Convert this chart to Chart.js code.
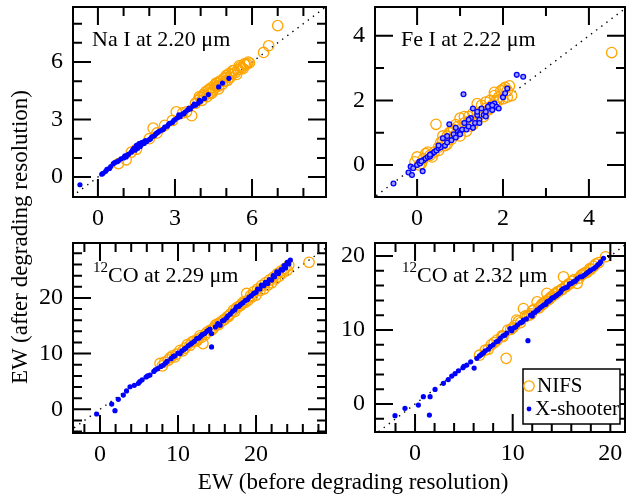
<!DOCTYPE html>
<html>
<head>
<meta charset="utf-8">
<script src="https://cdn.jsdelivr.net/npm/chart.js@4.4.1/dist/chart.umd.min.js"></script>
<style>
  html, body { margin: 0; padding: 0; background: #fff; }
  #wrap { position: relative; width: 627px; height: 496px; overflow: hidden; }
  #wrap canvas { position: absolute; left: 0; top: 0; }
  .title { position: absolute; font-family: 'Liberation Serif', 'Times New Roman', serif; font-size: 23px; color: #000; white-space: nowrap; }
  #ytitle { left: 20px; top: 237px; transform: translate(-50%, -50%) rotate(-90deg); }
  #xtitle { left: 353px; top: 482px; transform: translate(-50%, -50%); }
</style>
</head>
<body>
<div id="wrap">
  <canvas id="na" width="627" height="496"></canvas>
  <canvas id="fe" width="627" height="496"></canvas>
  <canvas id="coa" width="627" height="496"></canvas>
  <canvas id="cob" width="627" height="496"></canvas>
  <div class="title" id="ytitle">EW (after degrading resolution)</div>
  <div class="title" id="xtitle">EW (before degrading resolution)</div>
</div>
<script>
// ---- data ----
// Na I at 2.20 um
const naNifsX = [0.8, 1.1, 1.3, 1.5, 2.0, 2.15, 2.3, 2.6, 2.9, 3.05, 3.3, 3.45, 3.65, 3.8, 3.9, 4.0, 4.05, 4.1, 4.2, 4.25, 4.3, 4.35, 4.4, 4.5, 4.55, 4.6, 4.65, 4.7, 4.8, 4.85, 4.9, 5.0, 5.05, 5.1, 5.2, 5.3, 5.35, 5.45, 5.5, 5.6, 5.7, 5.75, 5.85, 5.9, 6.45, 6.65, 7.0,
  3.95, 4.15, 4.3, 4.45, 4.6, 4.75, 4.95, 5.15, 5.25, 5.4, 5.55, 5.65, 5.8, 4.4, 4.7, 5.0];
const naNifsY = [0.7, 0.9, 1.3, 1.45, 2.0, 2.55, 2.3, 2.7, 2.95, 3.4, 3.35, 3.4, 3.2, 3.85, 4.0, 4.15, 4.0, 4.3, 4.45, 4.2, 4.5, 4.4, 4.65, 4.55, 4.8, 4.7, 4.9, 4.75, 5.0, 4.85, 5.15, 5.3, 5.05, 5.4, 5.35, 5.55, 5.45, 5.6, 5.8, 5.7, 5.9, 5.85, 6.0, 5.95, 6.5, 6.85, 7.9,
  4.2, 4.25, 4.55, 4.4, 4.9, 5.0, 5.0, 5.2, 5.55, 5.35, 5.75, 5.65, 5.9, 4.35, 4.6, 5.2];
const naXsX = [-0.7, 0.15, 0.2, 0.3, 0.35, 0.45, 0.6, 0.75, 0.8, 0.9, 1.0, 1.05, 1.15, 1.2, 1.3, 1.4, 1.45, 1.5, 1.55, 1.6, 1.65, 1.7, 1.75, 1.8, 1.85, 1.9, 2.0, 2.1, 2.2, 2.25, 2.3, 2.4, 2.5, 2.6, 2.7, 2.8, 2.9, 3.0, 3.1, 3.2, 3.3, 3.4, 3.5, 3.6, 3.7, 3.8, 3.9, 4.0, 4.15, 4.3, 4.7, 4.85, 5.1,
  1.35, 1.5, 1.6, 1.7, 1.8, 2.05, 2.35, 2.55, 2.75, 2.95, 3.15, 3.35, 3.55, 3.75, 3.95, 0.5, 0.65, 1.1];
const naXsY = [-0.4, 0.15, 0.2, 0.3, 0.4, 0.45, 0.7, 0.8, 0.85, 0.95, 1.0, 1.1, 1.15, 1.2, 1.3, 1.5, 1.4, 1.55, 1.5, 1.75, 1.6, 1.7, 1.8, 1.75, 1.9, 1.85, 1.95, 2.1, 2.15, 2.25, 2.3, 2.4, 2.45, 2.6, 2.65, 2.8, 2.85, 3.0, 3.1, 3.15, 3.3, 3.4, 3.5, 3.55, 3.7, 3.75, 3.85, 3.95, 4.1, 4.3, 4.7, 4.9, 5.15,
  1.4, 1.65, 1.6, 1.8, 1.85, 2.0, 2.35, 2.5, 2.75, 2.95, 3.25, 3.3, 3.6, 3.8, 4.0, 0.55, 0.75, 1.05];

// Fe I at 2.22 um
const feNifsX = [-0.05, 0.0, 0.05, 0.15, 0.25, 0.3, 0.4, 0.44, 0.5, 0.55, 0.6, 0.65, 0.7, 0.75, 0.8, 0.85, 0.9, 0.95, 1.0, 1.05, 1.1, 1.15, 1.2, 1.25, 1.3, 1.35, 1.4, 1.45, 1.5, 1.55, 1.6, 1.65, 1.7, 1.75, 1.8, 1.85, 1.9, 1.95, 2.0, 2.05, 2.1, 2.15, 2.2, 4.53,
  0.1, 0.2, 0.35, 0.5, 0.6, 0.7, 0.8, 0.9, 1.0, 1.1, 1.2, 1.3, 1.4, 1.5, 1.6, 1.7, 1.8, 1.9, 2.0, 2.1];
const feNifsY = [0.1, 0.25, 0.0, 0.2, 0.4, 0.3, 0.4, 1.26, 0.55, 0.7, 0.75, 0.6, 0.9, 1.0, 0.8, 1.1, 0.95, 1.2, 1.45, 1.15, 1.3, 1.05, 1.5, 1.2, 1.6, 1.4, 1.9, 1.55, 1.65, 1.5, 1.95, 1.7, 2.0, 1.85, 2.15, 2.0, 2.1, 2.3, 2.05, 2.4, 2.3, 2.45, 2.15, 3.48,
  0.05, 0.35, 0.25, 0.45, 0.9, 0.65, 1.05, 1.25, 0.9, 1.5, 1.35, 1.25, 1.6, 1.85, 1.75, 1.75, 2.25, 2.0, 2.35, 2.1];
const feXsX = [-0.55, -0.2, -0.15, -0.12, -0.09, 0.0, 0.05, 0.07, 0.13, 0.15, 0.2, 0.25, 0.3, 0.35, 0.4, 0.45, 0.5, 0.55, 0.6, 0.65, 0.7, 0.75, 0.8, 0.85, 0.9, 0.95, 1.0, 1.05, 1.08, 1.1, 1.15, 1.2, 1.25, 1.3, 1.35, 1.4, 1.45, 1.5, 1.55, 1.6, 1.7, 1.75, 1.8, 1.85, 1.9, 2.0, 2.05, 2.1, 2.32, 2.47,
  0.1, 0.3, 0.5, 0.7, 0.9, 1.0, 1.2, 1.3, 1.4, 1.45, 1.6, 1.65, 1.75];
const feXsY = [-0.57, -0.23, -0.05, -0.31, -0.1, 0.0, 0.1, 0.05, -0.19, 0.15, 0.2, 0.25, 0.26, 0.35, 0.4, 0.45, 0.52, 0.55, 0.83, 0.6, 0.7, 1.26, 0.77, 0.95, 0.85, 1.05, 1.0, 1.1, 2.19, 1.3, 1.1, 1.19, 1.45, 1.75, 1.3, 1.55, 1.4, 1.75, 1.55, 1.65, 1.86, 1.7, 1.9, 1.8, 1.75, 2.1, 2.22, 2.37, 2.79, 2.73,
  0.12, 0.32, 0.6, 0.9, 1.15, 0.95, 1.4, 1.15, 1.65, 1.3, 1.5, 1.8, 1.85];

// 12CO at 2.29 um
const coaNifsX = [7.69, 8.3, 8.76, 9.3, 9.8, 10.26, 10.9, 11.54, 12.1, 12.6, 13.0, 13.2, 13.7, 14.1, 14.5, 15.0, 15.4, 15.8, 16.3, 16.7, 17.1, 17.5, 18.0, 18.4, 18.8, 19.3, 19.7, 20.2, 20.7, 21.2, 21.7, 22.2, 22.7, 23.2, 23.7, 24.2, 26.8,
  8.0, 9.0, 9.6, 10.6, 11.2, 11.8, 12.4, 12.8, 13.5, 14.3, 14.8, 15.2, 16.0, 16.5, 17.3, 17.8, 18.2, 18.6, 19.0, 19.5, 20.0, 20.5, 21.0, 21.5, 22.0, 22.5, 23.0, 23.5, 24.0];
const coaNifsY = [8.24, 8.5, 8.84, 9.6, 9.9, 10.6, 11.0, 11.5, 12.3, 12.6, 12.9, 11.8, 13.8, 14.2, 14.5, 15.3, 15.6, 16.0, 16.6, 17.1, 17.8, 18.2, 18.6, 19.3, 20.8, 20.4, 21.1, 21.6, 22.2, 22.7, 23.2, 23.7, 24.3, 24.8, 25.3, 25.9, 26.4,
  7.8, 9.3, 9.4, 10.5, 11.6, 12.1, 12.3, 13.2, 13.4, 14.2, 15.1, 15.2, 16.2, 16.7, 17.6, 18.5, 19.0, 19.2, 19.6, 20.2, 20.5, 21.3, 21.6, 22.3, 22.7, 23.4, 23.9, 24.6, 25.0];
const coaXsX = [-0.43, 1.5, 1.92, 2.35, 2.99, 3.4, 3.85, 4.4, 4.92, 5.4, 5.9, 6.4, 6.9, 7.4, 8.12, 8.6, 9.1, 9.6, 10.26, 10.8, 11.3, 11.8, 12.4, 12.9, 13.4, 13.9, 14.3, 14.3, 14.8, 15.4, 15.9, 16.4, 17.0, 17.5, 18.0, 18.6, 19.1, 19.7, 20.2, 20.7, 21.2, 21.7, 22.2, 22.65, 23.2, 23.6, 24.0, 24.4,
  5.1, 6.1, 7.1, 7.8, 8.4, 9.4, 10.0, 10.5, 11.0, 11.6, 12.1, 12.7, 13.1, 13.7, 14.1, 15.1, 15.7, 16.2, 16.7, 17.3, 17.8, 18.3, 18.9, 19.4, 20.0, 20.5, 21.0, 21.5, 22.0, 22.4, 22.9, 23.4, 23.8, 24.2];
const coaXsY = [-0.84, 0.95, -0.25, 1.79, 2.56, 3.3, 4.05, 4.3, 4.66, 5.3, 5.8, 6.15, 6.8, 7.3, 7.94, 8.6, 9.1, 9.6, 10.0, 10.8, 11.4, 11.9, 12.7, 13.1, 13.6, 14.2, 13.6, 11.2, 14.8, 15.1, 16.0, 16.8, 17.6, 18.4, 18.8, 19.5, 20.1, 20.8, 21.6, 22.3, 22.8, 23.3, 24.0, 24.66, 25.1, 25.8, 26.4, 26.8,
  5.0, 6.0, 7.1, 7.7, 8.3, 9.5, 10.1, 10.5, 11.0, 11.7, 12.2, 12.8, 13.4, 14.0, 14.4, 15.4, 15.9, 16.4, 17.1, 17.9, 18.5, 19.1, 19.7, 20.4, 21.0, 21.6, 22.2, 22.6, 23.2, 23.8, 24.4, 25.0, 25.4, 26.1];

// 12CO at 2.32 um
const cobNifsX = [6.6, 7.2, 7.8, 8.4, 8.9, 9.33, 9.5, 10.0, 10.4, 10.8, 11.1, 11.5, 11.9, 12.2, 12.5, 12.9, 13.2, 13.5, 13.8, 14.1, 14.4, 14.7, 15.0, 15.2, 15.5, 15.8, 16.1, 16.6, 17.0, 17.3, 17.6, 17.9, 18.3, 19.5,
  7.5, 8.1, 9.0, 9.8, 10.2, 10.6, 11.3, 11.7, 12.0, 12.7, 13.0, 13.4, 13.7, 14.0, 14.3, 14.6, 15.1, 15.4, 15.7, 16.3, 16.8, 17.1, 17.5, 18.0, 18.5, 18.8];
const cobNifsY = [6.6, 7.3, 8.0, 8.65, 9.2, 6.17, 10.0, 10.3, 11.35, 11.0, 12.9, 11.9, 12.2, 12.8, 13.8, 13.3, 13.6, 14.96, 14.3, 14.6, 14.9, 15.2, 15.5, 17.2, 15.9, 16.2, 16.6, 16.3, 17.4, 17.66, 17.8, 18.3, 18.6, 19.9,
  7.4, 8.3, 9.1, 10.1, 10.6, 11.2, 11.9, 12.0, 12.6, 13.0, 13.5, 13.9, 14.1, 14.5, 14.9, 15.2, 15.5, 15.9, 16.2, 16.8, 17.0, 17.5, 17.8, 18.2, 18.9, 19.1];
const cobXsX = [-2.05, -1.03, 0.34, 0.85, 1.47, 1.54, 2.05, 2.9, 3.4, 3.76, 4.1, 4.44, 4.9, 5.3, 5.7, 6.05, 6.33, 6.8, 7.2, 7.7, 8.0, 8.3, 8.72, 9.0, 9.4, 9.74, 10.1, 10.5, 10.8, 11.1, 11.56, 11.8, 12.1, 12.48, 12.8, 13.2, 13.5, 13.85, 14.2, 14.5, 14.9, 15.2, 15.6, 16.0, 16.4, 16.9, 17.3, 17.7, 18.0, 18.3, 18.7, 19.0, 19.3,
  5.0, 6.6, 7.0, 7.5, 8.5, 9.2, 9.9, 10.3, 11.0, 11.4, 12.0, 12.3, 12.6, 13.0, 13.4, 13.7, 14.0, 14.4, 14.7, 15.0, 15.4, 15.8, 16.2, 16.6, 17.1, 17.5, 17.9, 18.5, 18.9];
const cobXsY = [-1.58, -0.58, -0.14, 0.99, -1.49, 0.99, 1.98, 2.8, 3.3, 3.78, 4.1, 4.5, 4.9, 5.27, 5.7, 4.86, 6.17, 6.7, 7.2, 7.75, 8.0, 8.4, 8.87, 9.2, 9.6, 10.2, 10.3, 10.7, 11.0, 11.35, 8.56, 12.0, 12.3, 12.7, 13.0, 13.4, 13.8, 14.05, 14.4, 14.7, 15.1, 15.6, 15.8, 16.3, 16.6, 17.2, 17.4, 17.8, 18.1, 18.3, 18.8, 19.2, 19.7,
  5.1, 6.5, 6.9, 7.4, 8.5, 9.3, 9.9, 10.4, 11.1, 11.5, 11.9, 12.4, 12.7, 13.2, 13.5, 13.9, 14.3, 14.6, 14.9, 15.4, 15.7, 16.2, 16.5, 16.9, 17.2, 17.6, 18.0, 18.5, 19.0];

// one-to-one line
const diagVals = [-10, 40];

// tick labels
const naTicks = [0, 3, 6];
const feTicks = [0, 2, 4];
const coaTicks = [0, 10, 20];
const cobTicks = [0, 10, 20];

const FONT = "'Liberation Serif', 'Times New Roman', serif";
const ORANGE = '#ffa500';
const BLUE = '#0000ff';

const pts = (xs, ys) => xs.map((x, i) => ({ x: x, y: ys[i] }));

function makePanel(id, cfg) {
  // frame with inward ticks on all four sides, plus panel label
  const frame = {
    id: 'frame_' + id,
    afterDatasetsDraw(chart) {
      const ctx = chart.ctx, a = chart.chartArea;
      const xs = chart.scales.x, ys = chart.scales.y;
      ctx.save();
      ctx.strokeStyle = '#000';
      ctx.lineWidth = 2;
      const tick = (v, len, isX) => {
        if (isX) {
          const p = xs.getPixelForValue(v);
          if (p <= a.left + 1 || p >= a.right - 1) return;
          ctx.beginPath();
          ctx.moveTo(p, a.bottom); ctx.lineTo(p, a.bottom - len);
          ctx.moveTo(p, a.top); ctx.lineTo(p, a.top + len);
          ctx.stroke();
        } else {
          const p = ys.getPixelForValue(v);
          if (p <= a.top + 1 || p >= a.bottom - 1) return;
          ctx.beginPath();
          ctx.moveTo(a.left, p); ctx.lineTo(a.left + len, p);
          ctx.moveTo(a.right, p); ctx.lineTo(a.right - len, p);
          ctx.stroke();
        }
      };
      const st = cfg.minor;
      for (let v = Math.ceil(xs.min / st) * st; v <= xs.max; v += st) tick(v, cfg.ticks.includes(v) ? 18 : 9, true);
      for (let v = Math.ceil(ys.min / st) * st; v <= ys.max; v += st) tick(v, cfg.ticks.includes(v) ? 18 : 9, false);
      ctx.strokeRect(a.left, a.top, a.right - a.left, a.bottom - a.top);

      // label
      ctx.fillStyle = '#000';
      ctx.textBaseline = 'alphabetic';
      ctx.textAlign = 'left';
      let lx = a.left + cfg.labelDx;
      const ly = a.top + 39;
      if (cfg.sup) {
        ctx.font = '15px ' + FONT;
        ctx.fillText(cfg.sup, lx, ly - 10);
        lx += ctx.measureText(cfg.sup).width;
      }
      ctx.font = '22px ' + FONT;
      ctx.fillText(cfg.label, lx, ly);
      ctx.restore();
    },
    afterDraw(chart) {
      if (!cfg.legend) return;
      const ctx = chart.ctx;
      ctx.save();
      ctx.fillStyle = '#fff';
      ctx.fillRect(523, 369, 97, 55);
      ctx.strokeStyle = '#000';
      ctx.lineWidth = 1.5;
      ctx.strokeRect(523, 369, 97, 55);
      ctx.strokeStyle = ORANGE;
      ctx.lineWidth = 1.3;
      ctx.beginPath(); ctx.arc(529, 386, 5.2, 0, Math.PI * 2); ctx.stroke();
      ctx.fillStyle = BLUE;
      ctx.beginPath(); ctx.arc(529, 409, 2.4, 0, Math.PI * 2); ctx.fill();
      ctx.fillStyle = '#000';
      ctx.font = '21px ' + FONT;
      ctx.textBaseline = 'alphabetic';
      ctx.fillText('NIFS', 537, 392);
      ctx.fillText('X-shooter', 535, 415);
      ctx.restore();
    }
  };

  const axisCommon = (range, ticks, isX) => ({
    type: 'linear',
    min: range[0],
    max: range[1],
    afterBuildTicks: s => { s.ticks = ticks.map(v => ({ value: v })); },
    afterFit: s => {
      if (isX) s.height = 30; else s.width = 60;
      s.paddingTop = 0; s.paddingBottom = 0; s.paddingLeft = 0; s.paddingRight = 0;
    },
    grid: { display: false, drawTicks: false },
    border: { display: false },
    ticks: {
      font: { family: FONT, size: 24 },
      color: '#000',
      padding: isX ? 7 : 10,
      maxRotation: 0,
      autoSkip: false
    }
  });

  const b = cfg.box;
  return new Chart(document.getElementById(id), {
    type: 'scatter',
    data: {
      datasets: [
        {
          label: 'X-shooter',
          data: pts(cfg.xsX, cfg.xsY),
          pointRadius: cfg.ring ? 2.4 : 2.6,
          pointBackgroundColor: cfg.ring ? '#9a9aff' : BLUE,
          pointBorderColor: BLUE,
          pointBorderWidth: cfg.ring ? 1.3 : 0,
          order: 1
        },
        {
          label: 'NIFS',
          data: pts(cfg.nifsX, cfg.nifsY),
          pointRadius: 5.2,
          pointBackgroundColor: 'rgba(0,0,0,0)',
          pointBorderColor: ORANGE,
          pointBorderWidth: 1.3,
          order: 2
        },
        {
          type: 'line',
          label: '1:1',
          data: pts(diagVals, diagVals),
          borderColor: '#000',
          borderWidth: 1.4,
          borderDash: [1.4, 5],
          pointRadius: 0,
          fill: false,
          order: 3
        }
      ]
    },
    options: {
      responsive: false,
      animation: false,
      events: [],
      layout: {
        autoPadding: false,
        padding: { left: b.l - 60, top: b.t, right: 627 - b.r, bottom: 496 - b.b - 30 }
      },
      scales: {
        x: axisCommon(cfg.xr, cfg.ticks, true),
        y: axisCommon(cfg.yr, cfg.ticks, false)
      },
      plugins: { legend: { display: false }, tooltip: { enabled: false } }
    },
    plugins: [frame]
  });
}

makePanel('na', {
  box: { l: 73, t: 7, r: 326, b: 197 }, xr: [-0.97, 8.88], yr: [-1.04, 8.87],
  ticks: naTicks, minor: 1, label: 'Na I at 2.20 \u03bcm', labelDx: 19,
  nifsX: naNifsX, nifsY: naNifsY, xsX: naXsX, xsY: naXsY
});
makePanel('fe', {
  box: { l: 375, t: 7, r: 625, b: 197 }, xr: [-0.98, 4.84], yr: [-0.99, 4.89],
  ticks: feTicks, minor: 1, label: 'Fe I at 2.22 \u03bcm', labelDx: 26, ring: true,
  nifsX: feNifsX, nifsY: feNifsY, xsX: feXsX, xsY: feXsY
});
makePanel('coa', {
  box: { l: 73, t: 243, r: 326, b: 433 }, xr: [-3.46, 28.97], yr: [-4.25, 29.86],
  ticks: coaTicks, minor: 2, sup: '12', label: 'CO at 2.29 \u03bcm', labelDx: 20,
  nifsX: coaNifsX, nifsY: coaNifsY, xsX: coaXsX, xsY: coaXsY
});
makePanel('cob', {
  box: { l: 375, t: 243, r: 625, b: 432 }, xr: [-4.1, 21.5], yr: [-3.78, 21.76],
  ticks: cobTicks, minor: 2, sup: '12', label: 'CO at 2.32 \u03bcm', labelDx: 27, legend: true,
  nifsX: cobNifsX, nifsY: cobNifsY, xsX: cobXsX, xsY: cobXsY
});
</script>
</body>
</html>
